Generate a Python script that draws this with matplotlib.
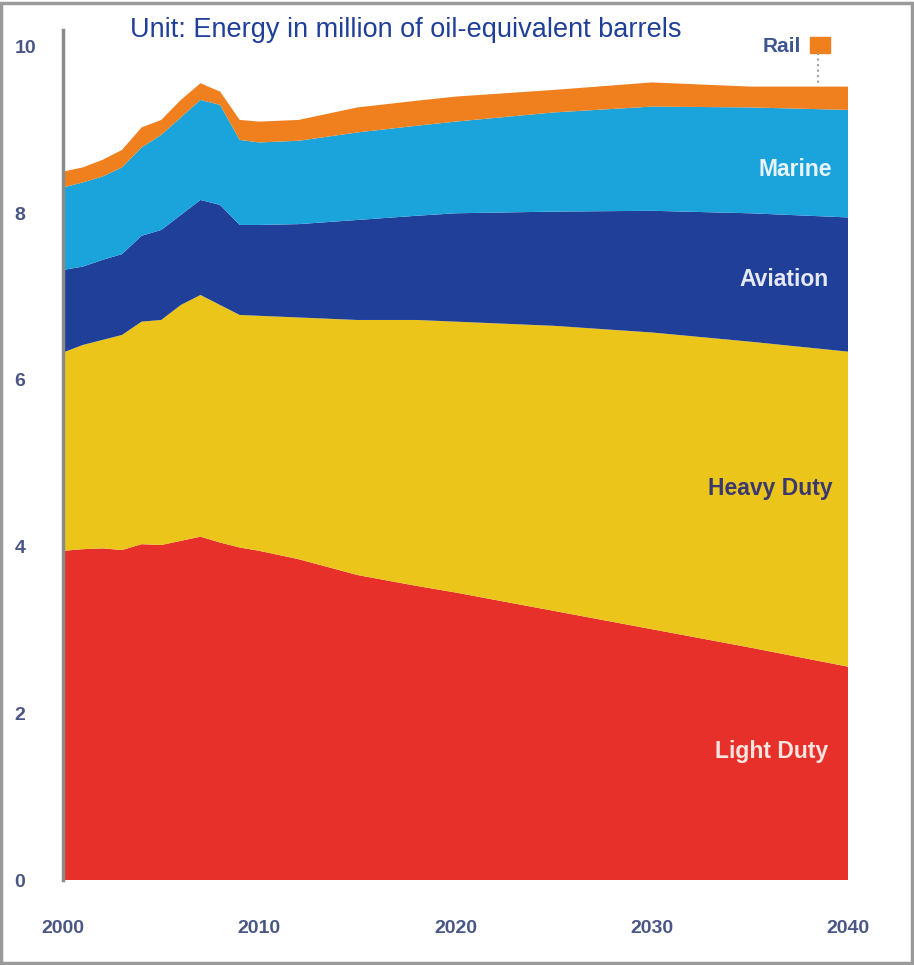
import matplotlib.pyplot as plt
from matplotlib.patches import Rectangle

# Datos (millones de barriles equivalentes de petroleo)
years = [2000, 2001, 2002, 2003, 2004, 2005, 2006, 2007, 2008, 2009, 2010,
         2012, 2015, 2018, 2020, 2025, 2030, 2035, 2040]
light_duty = [3.95, 3.97, 3.98, 3.96, 4.03, 4.02, 4.07, 4.12, 4.05, 3.99, 3.95,
              3.85, 3.66, 3.53, 3.45, 3.23, 3.01, 2.79, 2.56]
heavy_duty = [2.38, 2.45, 2.50, 2.58, 2.67, 2.70, 2.83, 2.90, 2.85, 2.79, 2.82,
              2.90, 3.06, 3.19, 3.25, 3.42, 3.56, 3.67, 3.78]
aviation = [0.99, 0.94, 0.96, 0.97, 1.03, 1.08, 1.08, 1.14, 1.20, 1.08, 1.09,
            1.12, 1.20, 1.25, 1.30, 1.37, 1.46, 1.54, 1.61]
marine = [0.99, 1.01, 1.00, 1.04, 1.06, 1.14, 1.17, 1.20, 1.20, 1.02, 0.99,
          1.00, 1.05, 1.08, 1.10, 1.19, 1.25, 1.27, 1.29]
rail = [0.19, 0.18, 0.20, 0.21, 0.24, 0.18, 0.21, 0.20, 0.16, 0.24, 0.25,
        0.25, 0.30, 0.30, 0.30, 0.27, 0.29, 0.25, 0.28]

x_ticks = [2000, 2010, 2020, 2030, 2040]
y_ticks = [0, 2, 4, 6, 8, 10]

colors = ['#e8302a', '#ebc51a', '#1f3f98', '#1ba3dc', '#f07f1e']
tick_color = '#4a5685'

plt.rcParams['font.family'] = ['Liberation Sans', 'DejaVu Sans']

fig = plt.figure(figsize=(9.14, 9.65), dpi=100)
ax = fig.add_axes([0.069, 0.088, 0.859, 0.881])

ax.stackplot(years, light_duty, heavy_duty, aviation, marine, rail,
             colors=colors, linewidth=0)

ax.set_xlim(2000, 2040)
ax.set_ylim(0, 10.2)

# Ejes: solo la linea izquierda gris
for side in ['top', 'right', 'bottom']:
    ax.spines[side].set_visible(False)
ax.spines['left'].set_color('#8a8a8a')
ax.spines['left'].set_linewidth(2.5)

ax.set_xticks(x_ticks)
ax.set_yticks(y_ticks)
ax.tick_params(axis='both', length=0, colors=tick_color, labelsize=14)
ax.tick_params(axis='x', pad=29)
ax.tick_params(axis='y', pad=35)
for lbl in ax.get_xticklabels() + ax.get_yticklabels():
    lbl.set_fontweight('bold')
for lbl in ax.get_yticklabels():
    lbl.set_horizontalalignment('left')

# Etiquetas de cada serie
ax.text(2039.2, 8.52, 'Marine', ha='right', va='center', color='#e8f4fb',
        fontsize=16.5, fontweight='bold')
ax.text(2039.0, 7.20, 'Aviation', ha='right', va='center', color='#e6e9f5',
        fontsize=16.5, fontweight='bold')
ax.text(2039.2, 4.70, 'Heavy Duty', ha='right', va='center', color='#3b3870',
        fontsize=16.5, fontweight='bold')
ax.text(2039.0, 1.54, 'Light Duty', ha='right', va='center', color='#fbe3e0',
        fontsize=16.5, fontweight='bold')

# Leyenda de Rail con cuadrado y linea punteada
ax.text(2037.6, 10.0, 'Rail', ha='right', va='center', color='#3e5590',
        fontsize=15, fontweight='bold')
ax.add_patch(Rectangle((2038.05, 9.92), 1.0, 0.2, color=colors[4],
                       clip_on=False))
ax.plot([2038.45, 2038.45], [9.92, 9.55], color='#a0a0a0', linestyle=':',
        linewidth=1.5)

fig.text(130 / 914, 1 - 30 / 965, 'Unit: Energy in million of oil-equivalent barrels',
         color='#1f3f98', fontsize=19.5, va='center', ha='left')

# Marco gris de la figura
fig.patches.append(Rectangle((0.001, 0.002), 0.997, 0.995, transform=fig.transFigure,
                             fill=False, edgecolor='#9a9a9a', linewidth=2.5))

fig.savefig('out.png', dpi=100)
